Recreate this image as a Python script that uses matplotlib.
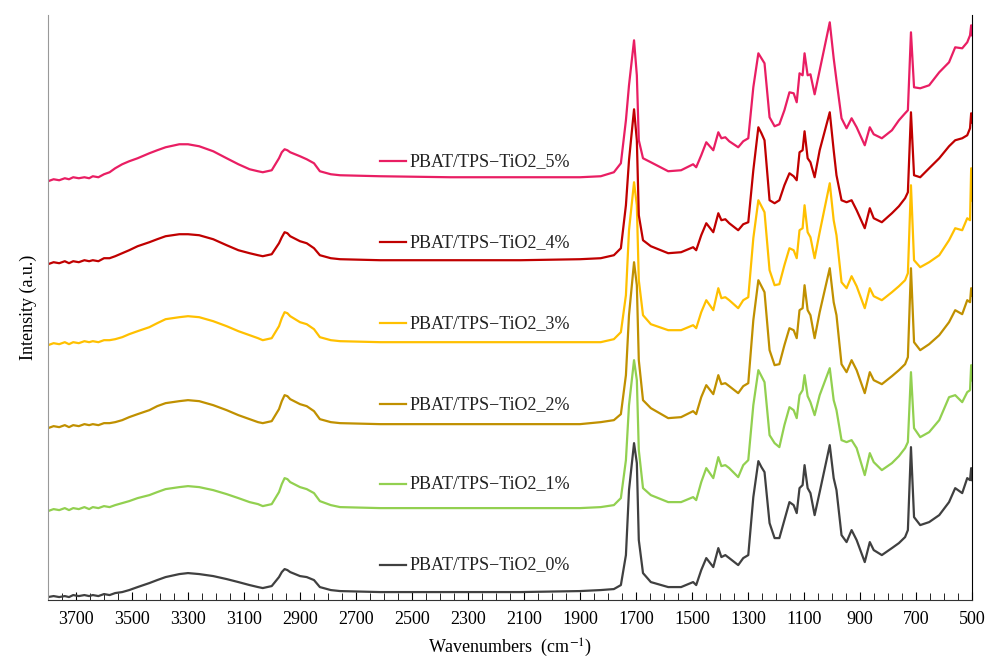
import matplotlib
matplotlib.use("Agg")
import matplotlib.pyplot as plt

# FTIR spectra of PBAT/TPS-TiO2 films (stacked, arbitrary intensity units)

plt.rcParams['font.family'] = ['Liberation Serif', 'DejaVu Serif']
plt.rcParams['mathtext.fontset'] = 'stix'

# wavenumbers (cm-1) shared by all spectra
wavenumbers = [3800, 3780, 3760, 3740, 3725, 3710, 3690, 3670, 3653, 3640,
               3620, 3600, 3580, 3560, 3535, 3510, 3480, 3438, 3410, 3380,
               3331, 3300, 3260, 3210, 3162, 3120, 3080, 3050, 3033, 3001,
               2975, 2965, 2955, 2945, 2935, 2900, 2876, 2850, 2829, 2790,
               2757,
               2614, 2363, 2112, 1900,
               1826, 1779, 1754, 1736, 1725, 1707, 1697, 1690, 1675, 1647,
               1585, 1539, 1496, 1485, 1467, 1449, 1424, 1406, 1395, 1381,
               1367, 1335, 1317, 1299, 1281, 1263, 1252, 1241, 1223, 1205,
               1188, 1170, 1152, 1137, 1126, 1116, 1105, 1098, 1087, 1077,
               1062, 1044, 1008, 994, 984, 966, 948, 930, 912, 883,
               865, 851, 822, 786, 761, 739, 729, 718, 707, 685,
               653, 617, 582, 560, 535, 517, 507, 503, 500]

# stacked intensities (already offset)
tio2_0 = [3, 4, 3, 4, 3, 5, 4, 5, 4, 5,
          4, 6, 5, 7, 8, 10, 13, 17, 20, 23,
          26, 27, 26, 24, 21, 18, 15, 13, 12, 14,
          23, 28, 31, 30, 28, 24, 23, 20, 13, 10,
          9,
          8, 8, 8, 9,
          10, 11, 15, 45, 110, 157, 137, 60, 27, 18,
          13, 13, 18, 15, 30, 42, 33, 52, 43, 45,
          42, 35, 42, 45, 103, 139, 133, 128, 77, 62,
          62, 80, 98, 95, 87, 112, 115, 135, 112, 107,
          85, 108, 155, 122, 110, 65, 58, 70, 60, 38,
          58, 50, 45, 52, 57, 63, 70, 153, 83, 75,
          78, 85, 98, 112, 107, 122, 120, 132, 120]

tio2_1 = [89, 91, 90, 92, 90, 92, 91, 93, 91, 93,
          92, 94, 93, 95, 97, 99, 102, 105, 108, 111,
          113, 114, 113, 110, 106, 102, 98, 96, 94, 96,
          108, 116, 122, 121, 118, 113, 111, 107, 99, 95,
          93,
          92, 92, 92, 92,
          93, 95, 102, 140, 195, 240, 220, 150, 112, 105,
          98, 98, 103, 100, 118, 132, 122, 143, 134, 135,
          132, 123, 135, 140, 195, 230, 224, 218, 165, 157,
          153, 175, 193, 190, 182, 205, 210, 225, 204, 198,
          185, 205, 232, 200, 190, 160, 158, 160, 152, 125,
          147, 138, 130, 137, 144, 152, 158, 228, 172, 163,
          168, 180, 203, 205, 198, 208, 210, 235, 220]

tio2_2 = [172, 174, 173, 175, 173, 175, 174, 176, 175, 176,
          175, 177, 177, 178, 180, 183, 186, 190, 194, 197,
          199, 200, 199, 195, 190, 185, 181, 178, 177, 179,
          191, 199, 205, 204, 201, 196, 194, 189, 181, 178,
          177,
          176, 176, 176, 176,
          178, 180, 186, 225, 285, 338, 315, 240, 200, 192,
          182, 183, 189, 186, 203, 215, 206, 225, 216, 217,
          214, 207, 214, 217, 280, 320, 314, 308, 250, 235,
          236, 255, 272, 270, 262, 290, 292, 315, 290, 285,
          262, 288, 332, 298, 285, 236, 228, 240, 230, 207,
          228, 220, 216, 224, 230, 236, 243, 332, 258, 250,
          256, 265, 278, 290, 286, 300, 298, 312, 305]

tio2_3 = [255, 257, 256, 258, 256, 258, 257, 259, 258, 259,
          258, 260, 260, 261, 263, 266, 269, 273, 277, 281,
          283, 284, 283, 279, 274, 269, 265, 262, 260, 262,
          274, 282, 288, 287, 284, 278, 276, 271, 263, 260,
          259,
          258, 258, 258, 258,
          258, 261, 268, 305, 370, 418, 395, 320, 285, 276,
          270, 270, 275, 272, 288, 300, 290, 312, 302, 303,
          300, 292, 300, 303, 362, 400, 394, 388, 330, 315,
          316, 335, 352, 350, 342, 370, 372, 395, 368, 363,
          342, 368, 417, 380, 365, 318, 312, 324, 314, 292,
          312, 304, 300, 308, 314, 320, 327, 415, 340, 333,
          338, 345, 360, 372, 370, 382, 380, 432, 400]

tio2_4 = [336, 338, 337, 339, 337, 339, 338, 340, 339, 340,
          339, 342, 342, 344, 347, 350, 354, 358, 361, 364,
          366, 366, 365, 361, 355, 350, 347, 345, 344, 346,
          357, 363, 368, 367, 364, 359, 357, 352, 345, 342,
          341,
          340, 340, 340, 341,
          342, 345, 352, 395, 440, 491, 460, 385, 360, 354,
          347, 348, 353, 350, 365, 377, 368, 387, 380, 381,
          377, 370, 376, 378, 430, 473, 467, 460, 400, 397,
          400, 415, 427, 424, 420, 448, 450, 469, 442, 438,
          423, 450, 488, 450, 425, 400, 398, 400, 390, 372,
          392, 382, 378, 387, 394, 402, 408, 488, 425, 423,
          432, 442, 454, 460, 462, 465, 472, 487, 478]

tio2_5 = [419, 421, 420, 422, 421, 423, 422, 423, 422, 424,
          423, 426, 428, 432, 436, 439, 442, 447, 450, 453,
          456, 456, 454, 449, 442, 436, 431, 429, 428, 430,
          442, 448, 451, 450, 448, 444, 441, 437, 429, 426,
          425,
          424, 423, 423, 423,
          424, 428, 437, 480, 515, 560, 525, 460, 442, 438,
          429, 430, 436, 433, 445, 458, 450, 468, 462, 463,
          459, 453, 459, 462, 513, 547, 542, 537, 483, 474,
          476, 490, 508, 507, 498, 527, 525, 547, 525, 526,
          506, 530, 578, 542, 520, 482, 472, 482, 473, 455,
          473, 466, 462, 470, 480, 487, 490, 568, 513, 512,
          515, 528, 538, 553, 552, 558, 565, 575, 565]

spectra = [tio2_0, tio2_1, tio2_2, tio2_3, tio2_4, tio2_5]
labels = ["PBAT/TPS\u2212TiO2_0%", "PBAT/TPS\u2212TiO2_1%", "PBAT/TPS\u2212TiO2_2%",
          "PBAT/TPS\u2212TiO2_3%", "PBAT/TPS\u2212TiO2_4%", "PBAT/TPS\u2212TiO2_5%"]
colors = ["#404040", "#92D050", "#C09000", "#FFC000", "#C00000", "#E91E63"]
label_heights = [35, 116, 196, 277, 358, 439]


# Figure and axes
fig = plt.figure(figsize=(10, 6.66), dpi=100)
ax = fig.add_axes([0.048, 0.099, 0.924, 0.878])

for y, lab, c, h in zip(spectra, labels, colors, label_heights):
    ax.plot(wavenumbers, y, color=c, lw=1.6)
    # label placed next to a short line, like the original
    ax.plot([2614, 2520], [h, h], color=c, lw=1.6)
    ax.text(2510, h, lab, fontsize=13, va='center', ha='left', color='#222222')

ax.set_xlim(3800, 500)
ax.set_ylim(0, 585)

ax.set_xticks(range(3700, 400, -200))
ax.set_xticks(range(3800, 450, -50), minor=True)
ax.tick_params(axis='x', which='major', direction='in', length=6, labelsize=13, pad=8)
ax.tick_params(axis='x', which='minor', direction='in', length=5)
ax.set_yticks([])

ax.spines['top'].set_visible(False)
ax.spines['left'].set_color('#999999')
ax.spines['right'].set_color('black')
ax.spines['bottom'].set_color('#333333')

ax.set_xlabel(r'Wavenumbers  (cm$^{-1}$)', fontsize=13, labelpad=6)
ax.set_ylabel('Intensity (a.u.)', fontsize=13, labelpad=8)

fig.savefig("out.png", dpi=100)
